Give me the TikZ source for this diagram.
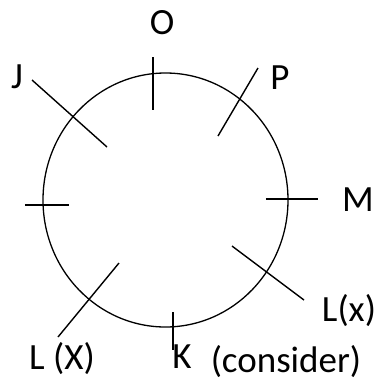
\documentclass[tikz,border=0pt]{standalone}
\usepackage{fontspec}
\setmainfont{Carlito}
\begin{document}
\begin{tikzpicture}[x=0.5pt, y=-0.5pt,
        lbl/.style={font=\fontsize{18.5}{22}\selectfont, inner sep=0pt},
        tickline/.style={line width=0.7pt},
      ]
      \useasboundingbox (0,0) rectangle (380,387);
      \draw[line width=0.65pt] (165.5,200) ellipse [x radius=122.5, y radius=127];
      % ticks across the circle
      \draw[tickline] (153,57)  -- (153,110);
      \draw[tickline] (25,205)  -- (69,205);
      \draw[tickline] (266,199) -- (318,199);
      \draw[tickline] (173,312) -- (173,350);
      \draw[tickline] (32,80)   -- (107,147);
      \draw[tickline] (258,68)  -- (218,136);
      \draw[tickline] (232,246) -- (304,300);
      \draw[tickline] (119,263) -- (58,337);
      % labels
      \node[lbl] (o)        at (162,23)  {O};
      \node[lbl] (j)        at (17,77)   {J};
      \node[lbl] (p)        at (280,78)  {P};
      \node[lbl] (m)        at (358,200) {M};
      \node[lbl] (lx)       at (349,311) {L(x)};
      \node[lbl] (lX)       at (62,359)  {L (X)};
      \node[lbl] (k)        at (182,357) {K};
      \node[lbl] (consider) at (286,362) {(consider)};
    \end{tikzpicture}
\end{document}
